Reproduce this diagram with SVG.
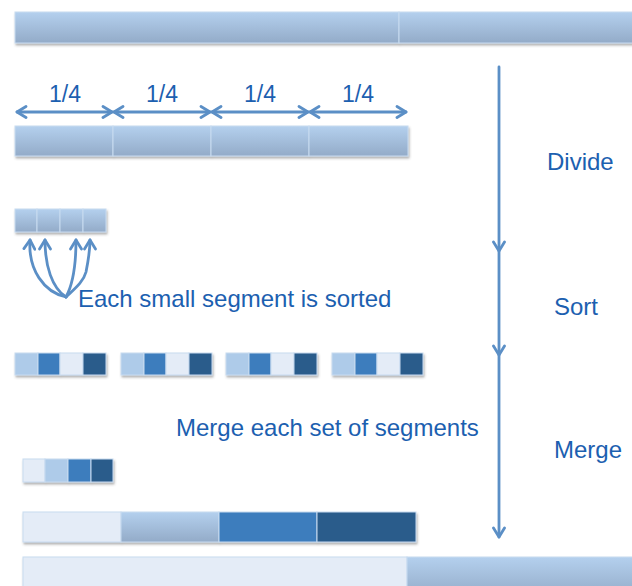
<svg xmlns="http://www.w3.org/2000/svg" width="632" height="586" viewBox="0 0 632 586">
  <defs>
    <linearGradient id="barFill" x1="0" y1="0" x2="0" y2="1">
      <stop offset="0" stop-color="#b4d0ee"/>
      <stop offset="1" stop-color="#93abc8"/>
    </linearGradient>
    <filter id="shadow" x="-5%" y="-20%" width="110%" height="150%">
      <feDropShadow dx="1" dy="2" stdDeviation="1" flood-color="#555" flood-opacity="0.45"/>
    </filter>
    <marker id="chev" viewBox="0 0 14 14" refX="12" refY="7" markerWidth="14" markerHeight="14" markerUnits="userSpaceOnUse" orient="auto-start-reverse">
      <path d="M3,1.5 L12,7 L3,12.5" fill="none" stroke="#5b8fc6" stroke-width="2.8" stroke-linecap="round" stroke-linejoin="round"/>
    </marker>
  </defs>
  <style>
    .cell { stroke: #c8dbf0; stroke-width: 1; }
    .grad { fill: url(#barFill); }
    .c1 { fill: #aecbe9; }
    .c2 { fill: #3d7dbd; }
    .c3 { fill: #e4ecf7; }
    .c4 { fill: #2b5b8b; }
    .lbl { font-family: "Liberation Sans", Arial, sans-serif; fill: #1c60b0; }
    .conn { fill: none; stroke: #5b8fc6; stroke-width: 2.8; stroke-linecap: round; }
  </style>

  <!-- full input array -->
  <g id="input-array" filter="url(#shadow)">
    <rect class="grad cell" x="15" y="12" width="384" height="31"/>
    <rect class="grad cell" x="399" y="12" width="240" height="31"/>
  </g>

  <!-- quarter divisions -->
  <g id="quarters" filter="url(#shadow)">
    <rect class="grad cell" x="15" y="126" width="98" height="30"/>
    <rect class="grad cell" x="113" y="126" width="98" height="30"/>
    <rect class="grad cell" x="211" y="126" width="98" height="30"/>
    <rect class="grad cell" x="309" y="126" width="99" height="30"/>
  </g>
  <g id="quarter-labels" class="lbl" font-size="23" text-anchor="middle">
    <text x="65" y="102">1/4</text>
    <text x="162" y="102">1/4</text>
    <text x="260" y="102">1/4</text>
    <text x="358" y="102">1/4</text>
  </g>

  <!-- small segments -->
  <g id="small-segments" filter="url(#shadow)">
    <rect class="grad cell" x="15" y="209" width="22" height="23"/>
    <rect class="grad cell" x="37" y="209" width="23" height="23"/>
    <rect class="grad cell" x="60" y="209" width="23" height="23"/>
    <rect class="grad cell" x="83" y="209" width="23" height="23"/>
  </g>

  <!-- sorted segments -->
  <g id="sorted-1" filter="url(#shadow)">
    <rect class="c1 cell" x="15" y="353" width="23" height="22"/>
    <rect class="c2 cell" x="38" y="353" width="22" height="22"/>
    <rect class="c3 cell" x="60" y="353" width="23" height="22"/>
    <rect class="c4 cell" x="83" y="353" width="23" height="22"/>
  </g>
  <g id="sorted-2" filter="url(#shadow)">
    <rect class="c1 cell" x="121" y="353" width="23" height="22"/>
    <rect class="c2 cell" x="144" y="353" width="22" height="22"/>
    <rect class="c3 cell" x="166" y="353" width="23" height="22"/>
    <rect class="c4 cell" x="189" y="353" width="23" height="22"/>
  </g>
  <g id="sorted-3" filter="url(#shadow)">
    <rect class="c1 cell" x="226" y="353" width="23" height="22"/>
    <rect class="c2 cell" x="249" y="353" width="22" height="22"/>
    <rect class="c3 cell" x="271" y="353" width="23" height="22"/>
    <rect class="c4 cell" x="294" y="353" width="23" height="22"/>
  </g>
  <g id="sorted-4" filter="url(#shadow)">
    <rect class="c1 cell" x="332" y="353" width="23" height="22"/>
    <rect class="c2 cell" x="355" y="353" width="22" height="22"/>
    <rect class="c3 cell" x="377" y="353" width="23" height="22"/>
    <rect class="c4 cell" x="400" y="353" width="23" height="22"/>
  </g>

  <!-- merged segment -->
  <g id="merged-small" filter="url(#shadow)">
    <rect class="c3 cell" x="23" y="459" width="22" height="23"/>
    <rect class="c1 cell" x="45" y="459" width="23" height="23"/>
    <rect class="c2 cell" x="68" y="459" width="23" height="23"/>
    <rect class="c4 cell" x="91" y="459" width="22" height="23"/>
  </g>

  <!-- merged quarters -->
  <g id="merged-quarters" filter="url(#shadow)">
    <rect class="c3 cell" x="23" y="512" width="98" height="30"/>
    <rect class="grad cell" x="121" y="512" width="98" height="30"/>
    <rect class="c2 cell" x="219" y="512" width="98" height="30"/>
    <rect class="c4 cell" x="317" y="512" width="99" height="30"/>
  </g>

  <!-- output array -->
  <g id="output-array" filter="url(#shadow)">
    <rect class="c3 cell" x="23" y="557" width="384" height="40"/>
    <rect class="grad cell" x="407" y="557" width="240" height="40"/>
  </g>

  <!-- text labels -->
  <g id="sort-note" class="lbl" font-size="24">
    <text x="78" y="307">Each small segment is sorted</text>
  </g>
  <g id="merge-note" class="lbl" font-size="24">
    <text x="176" y="436">Merge each set of segments</text>
  </g>
  <g id="step-divide" class="lbl" font-size="24">
    <text x="547" y="170">Divide</text>
  </g>
  <g id="step-sort" class="lbl" font-size="24">
    <text x="554" y="315">Sort</text>
  </g>
  <g id="step-merge" class="lbl" font-size="24">
    <text x="554" y="458">Merge</text>
  </g>

  <!-- connectors -->
  <g id="connectors">
    <!-- quarter width arrows -->
    <line class="conn" x1="17" y1="112" x2="112" y2="112" marker-start="url(#chev)" marker-end="url(#chev)"/>
    <line class="conn" x1="114" y1="112" x2="210" y2="112" marker-start="url(#chev)" marker-end="url(#chev)"/>
    <line class="conn" x1="212" y1="112" x2="308" y2="112" marker-start="url(#chev)" marker-end="url(#chev)"/>
    <line class="conn" x1="310" y1="112" x2="406" y2="112" marker-start="url(#chev)" marker-end="url(#chev)"/>

    <!-- stage flow -->
    <line class="conn" x1="499" y1="67" x2="499" y2="251" marker-end="url(#chev)"/>
    <line class="conn" x1="499" y1="252" x2="499" y2="355" marker-end="url(#chev)"/>
    <line class="conn" x1="499" y1="356" x2="499" y2="537" marker-end="url(#chev)"/>

    <!-- sort fan -->
    <path class="conn" d="M66,297 C44,292 28,270 30,240" marker-end="url(#chev)"/>
    <path class="conn" d="M66,297 C52,288 45,266 45,240" marker-end="url(#chev)"/>
    <path class="conn" d="M66,297 C72,286 76,266 76,240" marker-end="url(#chev)"/>
    <path class="conn" d="M66,297 C78,286 84,280 86,272 C88,262 90,252 90,240" marker-end="url(#chev)"/>
  </g>
</svg>
